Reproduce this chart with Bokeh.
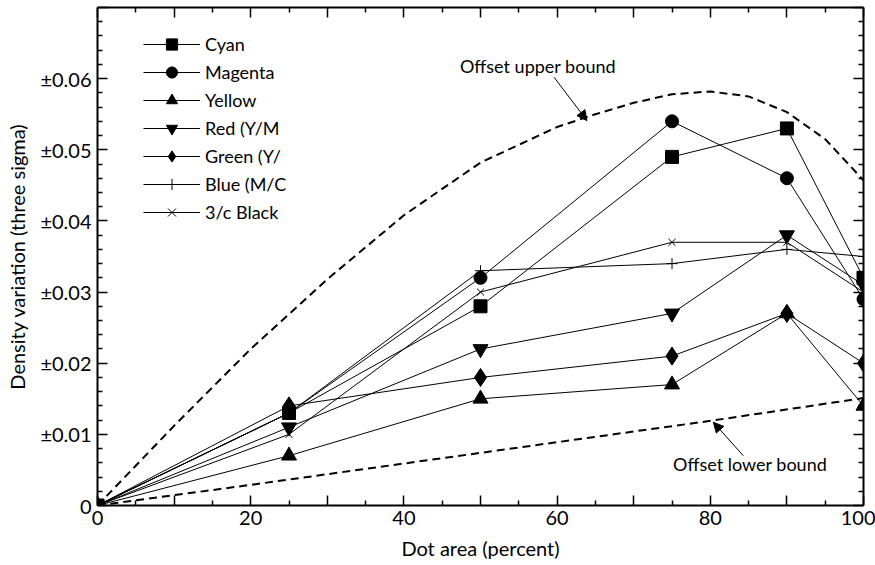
from bokeh.plotting import figure
from bokeh.models import (Range1d, LinearAxis, FixedTicker, CustomJSTickFormatter,
                          Legend, LegendItem, Arrow, NormalHead, Label)
from bokeh.embed import file_html
from bokeh.resources import INLINE

# ---------------- data ----------------
dot_area = [0, 25, 50, 75, 90, 100]
cyan = [0, 0.013, 0.028, 0.049, 0.053, 0.032]
magenta = [0, 0.013, 0.032, 0.054, 0.046, 0.029]
yellow = [0, 0.007, 0.015, 0.017, 0.027, 0.014]
red = [0, 0.011, 0.022, 0.027, 0.038, 0.031]
green = [0, 0.014, 0.018, 0.021, 0.027, 0.020]
blue = [0, 0.013, 0.033, 0.034, 0.036, 0.035]
black3c = [0, 0.010, 0.030, 0.037, 0.037, 0.030]

series_names = ["Cyan", "Magenta", "Yellow", "Red (Y/M", "Green (Y/", "Blue (M/C", "3/c Black"]

upper_x = [0, 10, 20, 30, 40, 50, 60, 65, 70, 75, 80, 85, 90, 95, 100]
upper_y = [0, 0.0112, 0.0220, 0.0318, 0.0408, 0.0482, 0.0532, 0.0550, 0.0566,
           0.0578, 0.0582, 0.0575, 0.0553, 0.0515, 0.0457]
lower_x = [0, 20, 40, 60, 80, 100]
lower_y = [0, 0.0029, 0.0059, 0.0089, 0.0119, 0.0151]

x_major = [0, 10, 20, 30, 40, 50, 60, 70, 80, 90, 100]
x_minor = [5, 15, 25, 35, 45, 55, 65, 75, 85, 95]
y_major = [0, 0.01, 0.02, 0.03, 0.04, 0.05, 0.06, 0.07]
y_minor = [0.002, 0.004, 0.006, 0.008, 0.012, 0.014, 0.016, 0.018, 0.022, 0.024, 0.026,
           0.028, 0.032, 0.034, 0.036, 0.038, 0.042, 0.044, 0.046, 0.048, 0.052, 0.054,
           0.056, 0.058, 0.062, 0.064, 0.066, 0.068]

FONT = "Lato"

p = figure(width=875, height=565, output_backend="svg", toolbar_location=None,
           x_range=Range1d(0, 100), y_range=Range1d(0, 0.07),
           min_border_left=97, min_border_right=12, min_border_top=7, min_border_bottom=60,
           x_axis_location=None, y_axis_location=None)
p.grid.visible = False
p.outline_line_color = None
p.background_fill_color = "white"
p.border_fill_color = "white"

xt = FixedTicker(ticks=x_major, minor_ticks=x_minor)
yt = FixedTicker(ticks=y_major, minor_ticks=y_minor)

x_fmt = CustomJSTickFormatter(code="return (tick % 20 === 0) ? tick.toFixed(0) : '';")
y_fmt = CustomJSTickFormatter(
    code="if (tick > 0.065) return ''; return tick === 0 ? '0' : '\u00b1' + tick.toFixed(2);")
blank = CustomJSTickFormatter(code="return '';")


def style(ax):
    ax.axis_line_width = 2
    ax.axis_line_color = "black"
    ax.major_tick_in = 10
    ax.major_tick_out = 0
    ax.minor_tick_in = 5
    ax.minor_tick_out = 0
    ax.major_tick_line_width = 1.5
    ax.minor_tick_line_width = 1.5
    ax.major_label_text_font = FONT
    ax.major_label_text_font_size = "20px"
    ax.major_label_text_color = "black"
    ax.axis_label_text_font = FONT
    ax.axis_label_text_font_size = "20px"
    ax.axis_label_text_font_style = "normal"
    ax.axis_label_text_color = "black"


bottom = LinearAxis(ticker=xt, formatter=x_fmt, axis_label="Dot area (percent)")
style(bottom)
bottom.major_label_standoff = 5
bottom.axis_label_standoff = 8
p.add_layout(bottom, "below")

left = LinearAxis(ticker=yt, formatter=y_fmt, axis_label="Density variation (three sigma)")
style(left)
left.major_label_standoff = 6
left.axis_label_standoff = 8
p.add_layout(left, "left")

top = LinearAxis(ticker=xt, formatter=blank)
style(top)
top.major_label_text_font_size = "0px"
top.major_label_standoff = 0
p.add_layout(top, "above")

right = LinearAxis(ticker=yt, formatter=blank)
style(right)
right.major_label_text_font_size = "0px"
right.major_label_standoff = 0
p.add_layout(right, "right")

# bounds
p.line(upper_x, upper_y, line_color="black", line_width=2, line_dash="8 5")
p.line(lower_x, lower_y, line_color="black", line_width=2, line_dash="8 5")

all_series = [cyan, magenta, yellow, red, green, blue, black3c]
marker_types = ["square", "circle", "triangle", "inverted_triangle", "diamond", "cross", "x"]
marker_sizes = [13, 13, 15, 15, 18, 11, 10]

items = []
for name, ys, mk, sz in zip(series_names, all_series, marker_types, marker_sizes):
    ln = p.line(dot_area, ys, line_color="black", line_width=1)
    filled = mk not in ("cross", "x")
    sc = p.scatter(dot_area, ys, marker=mk, size=sz, line_color="black",
                   fill_color="black" if filled else None, line_width=1)
    items.append(LegendItem(label=name, renderers=[ln, sc]))

legend = Legend(items=items, location=(46, 279), glyph_width=57, glyph_height=28,
                label_height=28, spacing=0, padding=0, margin=0, label_standoff=5,
                background_fill_alpha=0, border_line_color=None,
                label_text_font=FONT, label_text_font_size="18px", label_text_color="black")
p.add_layout(legend)

# annotations
p.add_layout(Label(x=57.5, y=0.0618, text="Offset upper bound", text_align="center",
                   text_baseline="middle", text_font=FONT, text_font_size="18px", text_color="black"))
p.add_layout(Arrow(end=NormalHead(size=10, fill_color="black", line_color="black"),
                   x_start=59.6, y_start=0.0602, x_end=63.9, y_end=0.0541,
                   line_color="black", line_width=1))
p.add_layout(Label(x=85.2, y=0.0059, text="Offset lower bound", text_align="center",
                   text_baseline="middle", text_font=FONT, text_font_size="18px", text_color="black"))
p.add_layout(Arrow(end=NormalHead(size=10, fill_color="black", line_color="black"),
                   x_start=84.3, y_start=0.0070, x_end=80.4, y_end=0.0117,
                   line_color="black", line_width=1))

open("out.html", "w").write(file_html(p, INLINE))
